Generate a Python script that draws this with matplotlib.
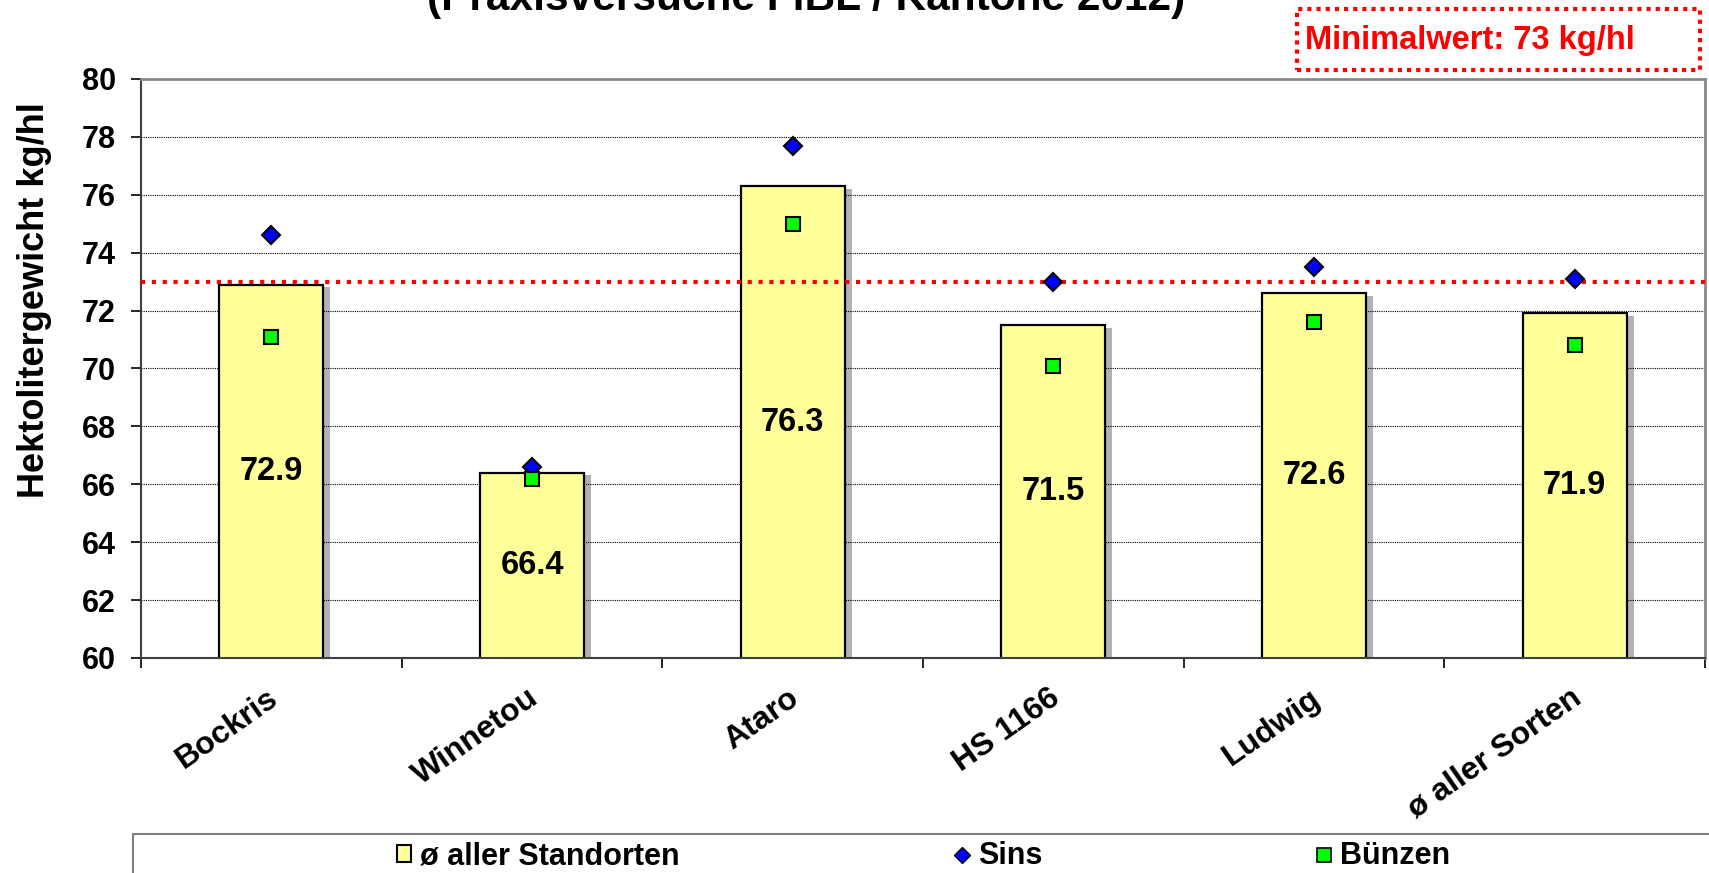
import matplotlib
matplotlib.use("Agg")
import matplotlib.pyplot as plt
import matplotlib.patheffects as pe
import matplotlib.transforms as mtransforms
from matplotlib.patches import Rectangle, Patch
from matplotlib.lines import Line2D

plt.rcParams["font.family"] = ["Liberation Sans", "DejaVu Sans"]
plt.rcParams["font.weight"] = "bold"

# Data
sorten = ["Bockris", "Winnetou", "Ataro", "HS 1166", "Ludwig", "ø aller Sorten"]
mittel_standorte = [72.9, 66.4, 76.3, 71.5, 72.6, 71.9]
sins = [74.6, 66.6, 77.7, 73.0, 73.5, 73.1]
buenzen = [71.1, 66.2, 75.0, 70.1, 71.6, 70.8]
minimalwert = 73
y_ticks = list(range(60, 81, 2))

title = "(Praxisversuche FiBL / Kantone 2012)"
ylabel = "Hektolitergewicht kg/hl"
legend_labels = ["ø aller Standorten", "Sins", "Bünzen"]
min_label = "Minimalwert: 73 kg/hl"

W, H = 1709, 873
fig = plt.figure(figsize=(W / 100, H / 100), dpi=100)
ax = fig.add_axes([141 / W, 1 - 658 / H, (1705 - 141) / W, (658 - 79) / H])

x = list(range(len(sorten)))
ymin, ymax = y_ticks[0], y_ticks[-1]

# Grid
ax.set_axisbelow(True)
ax.yaxis.grid(True, color="black", linestyle=(0, (1, 1)), linewidth=0.8)

# Bars with drop shadow
shadow = [pe.SimplePatchShadow(offset=(5, -2), shadow_rgbFace="black", alpha=0.3), pe.Normal()]
bars = ax.bar(x, mittel_standorte, width=0.4, color="#FFFF99", edgecolor="black",
              linewidth=1.6, zorder=2)
for b in bars:
    b.set_path_effects(shadow)

# Values inside the bars
for xi, v in zip(x, mittel_standorte):
    ax.text(xi, ymin + (v - ymin) / 2, f"{v:.1f}", ha="center", va="center",
            fontsize=23.5, fontweight="bold", zorder=4)

# Minimum line
ax.axhline(minimalwert, color="#FF0000", linewidth=3, linestyle=(0, (1, 1.6)),
           dash_capstyle="butt", zorder=3)

# Location markers
ax.plot(x, sins, linestyle="none", marker="D", markersize=9.5, markerfacecolor="#0000FF",
        markeredgecolor="black", markeredgewidth=1.5, zorder=5)
ax.plot(x, buenzen, linestyle="none", marker="s", markersize=10, markerfacecolor="#00FF00",
        markeredgecolor="black", markeredgewidth=1.5, zorder=5)

# Axes styling
ax.set_ylim(ymin, ymax)
ax.set_xlim(-0.5, len(sorten) - 0.5)
ax.set_yticks(y_ticks)
ax.tick_params(axis="y", labelsize=22, length=7, width=1.2, pad=11)
for lab in ax.get_yticklabels():
    lab.set_fontweight("bold")

ax.set_xticks([i - 0.5 for i in range(len(sorten) + 1)])
ax.set_xticklabels([])
ax.tick_params(axis="x", which="major", length=7, width=1.2)
ax.set_xticks(x, minor=True)
ax.set_xticklabels(sorten, minor=True, rotation=35, ha="right", rotation_mode="anchor",
                   fontsize=23, fontweight="bold")
ax.tick_params(axis="x", which="minor", length=0, pad=18)
shift = mtransforms.ScaledTranslation(-0.05, 0, fig.dpi_scale_trans)
for lab in ax.get_xticklabels(minor=True):
    lab.set_transform(lab.get_transform() + shift)

ax.spines["left"].set_color("#404040")
ax.spines["bottom"].set_color("#404040")
ax.spines["left"].set_linewidth(1.5)
ax.spines["bottom"].set_linewidth(1.5)
ax.spines["top"].set_color("#888888")
ax.spines["right"].set_color("#888888")
ax.spines["top"].set_linewidth(2)
ax.spines["right"].set_linewidth(2)

ax.set_ylabel(ylabel, fontsize=26, fontweight="bold")
ax.yaxis.set_label_coords(-0.057, 0.618)

# Title (cut off at the top edge as in the original)
fig.text(806 / W, 1 - 10 / H, title, ha="center", va="baseline", fontsize=30.5,
         fontweight="bold")

# Minimalwert box
fig.patches.append(Rectangle((1297 / W, 1 - 70 / H), (1700 - 1297) / W, 61 / H,
                             transform=fig.transFigure, fill=False, edgecolor="#FF0000",
                             linewidth=3, linestyle=(0, (1, 1.2))))
fig.text(1305 / W, 1 - 41 / H, min_label, ha="left", va="center", fontsize=23.5,
         fontweight="bold", color="#FF0000")

# Legend box
fig.patches.append(Rectangle((133 / W, -0.05), 1.0, 0.05 + 1 - 834 / H,
                             transform=fig.transFigure, facecolor="white",
                             edgecolor="#808080", linewidth=1.5))
handles = [
    Patch(facecolor="#FFFF99", edgecolor="black", linewidth=1.5),
    Line2D([], [], linestyle="none", marker="D", markersize=8, markerfacecolor="#0000FF",
           markeredgecolor="black", markeredgewidth=1),
    Line2D([], [], linestyle="none", marker="s", markersize=10, markerfacecolor="#00FF00",
           markeredgecolor="black", markeredgewidth=1.2),
]
fig.legend(handles, legend_labels, loc="center", bbox_to_anchor=(0.5405, 0.019), ncol=3,
           frameon=False, prop={"size": 22, "weight": "bold"}, handlelength=0.45,
           handleheight=0.45, handletextpad=0.3, columnspacing=9.0)

fig.savefig("out.png", dpi=100)
